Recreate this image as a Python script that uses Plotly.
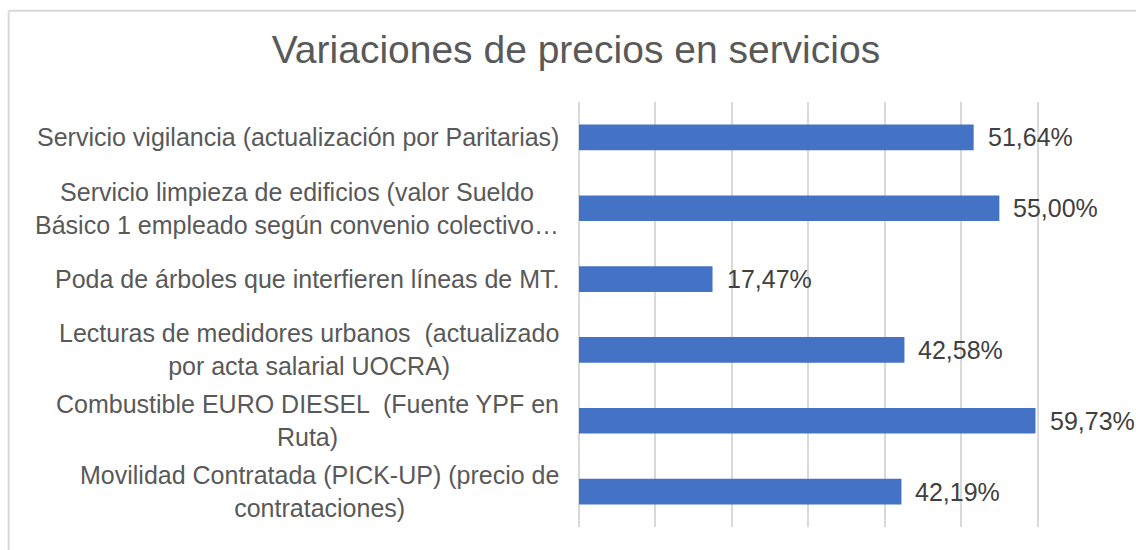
import plotly.graph_objects as go

# datos
categorias = [
    "Servicio vigilancia (actualización por Paritarias)",
    "Servicio limpieza de edificios (valor Sueldo<br>Básico 1 empleado según convenio colectivo…",
    "Poda de árboles que interfieren líneas de MT.",
    "Lecturas de medidores urbanos \u00a0(actualizado<br>por acta salarial UOCRA)",
    "Combustible EURO DIESEL \u00a0(Fuente YPF en<br>Ruta)",
    "Movilidad Contratada (PICK-UP) (precio de<br>contrataciones)",
]
variacion = [51.64, 55.00, 17.47, 42.58, 59.73, 42.19]
etiquetas = ["51,64%", "55,00%", "17,47%", "42,58%", "59,73%", "42,19%"]

ids = [f"c{i}" for i in range(len(categorias))]
fuente = "Liberation Sans, Arial"

fig = go.Figure()
fig.add_trace(go.Bar(
    x=variacion,
    y=ids,
    orientation="h",
    width=0.363,
    marker=dict(color="#4472C4", line=dict(width=0)),
    hoverinfo="x",
))

# etiquetas de categoria centradas (como en Excel)
for cid, cat in zip(ids, categorias):
    fig.add_annotation(
        x=0, y=cid, xref="x", yref="y",
        text=cat, showarrow=False,
        xanchor="right", yanchor="middle", align="center",
        xshift=-18,
        font=dict(family=fuente, size=25, color="#595959"),
    )

# etiquetas de valores
for cid, v, lab in zip(ids, variacion, etiquetas):
    fig.add_annotation(
        x=v, y=cid, xref="x", yref="y",
        text=lab, showarrow=False,
        xanchor="left", yanchor="middle",
        xshift=12,
        font=dict(family=fuente, size=25, color="#404040"),
    )

# marco del area del grafico (borde superior e izquierdo)
borde = dict(color="#d9d9d9", width=2)
fig.add_shape(type="line", xref="paper", yref="paper",
              x0=-1.066, x1=1.1, y0=1.215, y1=1.215, line=borde)
fig.add_shape(type="line", xref="paper", yref="paper",
              x0=-1.066, x1=-1.066, y0=-0.2, y1=1.215, line=borde)

fig.update_layout(
    width=1136, height=550,
    margin=dict(l=579, r=22, t=102, b=23),
    paper_bgcolor="white", plot_bgcolor="white",
    showlegend=False,
    title=dict(
        text="Variaciones de precios en servicios",
        x=0.507, xref="container", xanchor="center",
        y=0.91, yref="container", yanchor="middle",
        font=dict(family=fuente, size=39, color="#595959"),
    ),
    xaxis=dict(
        range=[0, 70], dtick=10,
        showgrid=True, gridcolor="#d9d9d9", gridwidth=1.5,
        zeroline=True, zerolinecolor="#d9d9d9", zerolinewidth=1.5,
        showticklabels=False, showline=False, ticks="",
    ),
    yaxis=dict(
        categoryorder="array", categoryarray=ids,
        autorange="reversed",
        showticklabels=False, showgrid=False, zeroline=False, ticks="",
    ),
)

fig.write_html("out.html", config={"displayModeBar": False},
               post_script="document.body.style.margin='0';")
